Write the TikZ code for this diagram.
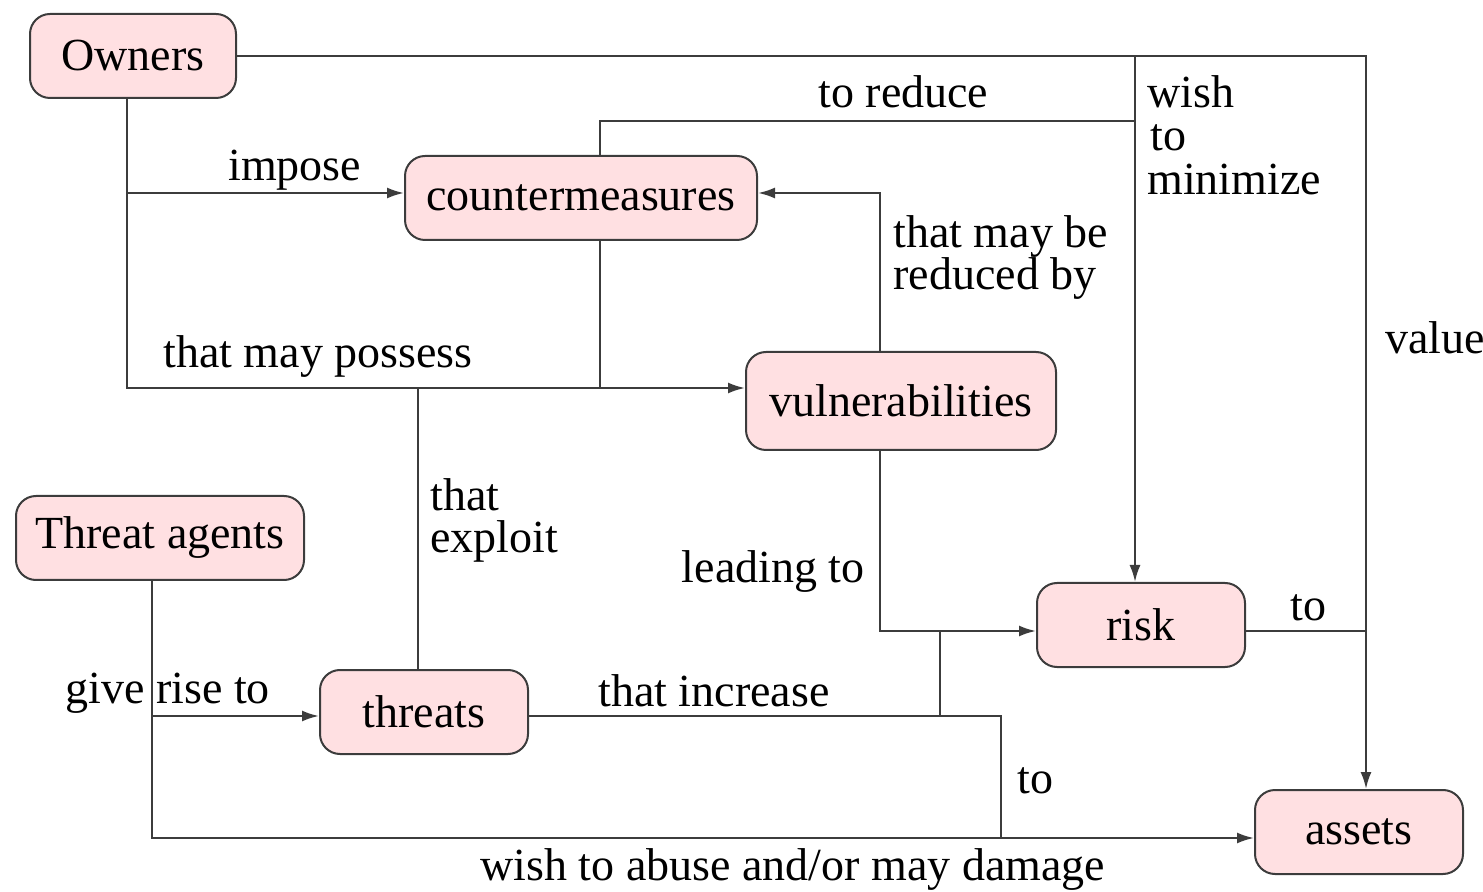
\documentclass[tikz,border=0pt]{standalone}
\usepackage{fontspec}
\setmainfont{Liberation Serif}
\usetikzlibrary{arrows.meta}
\definecolor{boxpink}{RGB}{255,224,226}
\definecolor{edge}{RGB}{60,60,60}

\begin{document}
\begin{tikzpicture}[x=0.5pt,y=-0.5pt,
	font=\fontsize{23}{21}\selectfont,
	box/.style={draw=edge,line width=1pt,fill=boxpink,rounded corners=10pt,minimum height=42pt,inner sep=0pt},
	line/.style={draw=edge,line width=1.1pt},
	arr/.style={line,-{Latex[length=8.5pt,width=5.5pt]}},
	lbl/.style={anchor=base west,inner sep=0pt,align=left}]
		\useasboundingbox (0,0) rectangle (1483,892);
		% boxes
		\node[box,minimum width=103pt] (own) at (133,56) {Owners};
		\node[box,minimum width=176pt] (cm) at (581,198) {countermeasures};
		\node[box,minimum width=155pt,minimum height=49pt] (vul) at (901,401) {vulnerabilities};
		\node[box,minimum width=144pt] (ta) at (160,538) {Threat agents};
		\node[box,minimum width=104pt] (thr) at (424,712) {threats};
		\node[box,minimum width=104pt] (risk) at (1141,625) {risk};
		\node[box,minimum width=104pt] (ast) at (1359,832) {assets};
		% corners and joints
		\coordinate (j1) at (1135,56);
		\coordinate (j2) at (1366,56);
		\coordinate (j3) at (127,193);
		\coordinate (j4) at (127,388);
		\coordinate (j5) at (600,121);
		\coordinate (j6) at (880,193);
		\coordinate (j7) at (880,631);
		\coordinate (j8) at (940,631);
		\coordinate (j9) at (1001,716);
		\coordinate (j10) at (1001,838);
		\coordinate (j11) at (152,716);
		\coordinate (j12) at (152,838);
		\coordinate (j13) at (1366,631);
		\coordinate (j14) at (418,388);
		% connectors
		\draw[arr] (own.east) -- (j2) -- (j2 |- ast.north);
		\draw[arr] (j1) -- (j1 |- risk.north);
		\draw[arr] (own.south -| j4) -- (j4) -- (j4 -| vul.west);
		\draw[arr] (j3) -- (j3 -| cm.west);
		\draw[line] (cm.north -| j5) -- (j5) -- (j1 |- j5);
		\draw[line] (cm.south -| j5) -- (j5 |- j4);
		\draw[line] (thr.north -| j14) -- (j14);
		\draw[arr] (vul.north -| j6) -- (j6) -- (j6 -| cm.east);
		\draw[arr] (vul.south -| j7) -- (j7) -- (j7 -| risk.west);
		\draw[line] (thr.east |- j9) -- (j9) -- (j10);
		\draw[line] (j8 |- j9) -- (j8);
		\draw[arr] (ta.south -| j12) -- (j12) -- (j12 -| ast.west);
		\draw[arr] (j11) -- (j11 -| thr.west);
		\draw[line] (risk.east |- j13) -- (j13);
		% labels
		\node[lbl] (limp) at (228,181) {impose};
		\node[lbl] (lred) at (818,108) {to reduce};
		\node[lbl] (lwish) at (1147,108) {wish};
		\node[lbl] (lto) at (1150,151) {to};
		\node[lbl] (lmin) at (1147,195) {minimize};
		\node[lbl] (lmay) at (893,290) {that may be\\reduced by};
		\node[lbl] (lval) at (1385,354) {value};
		\node[lbl] (lpos) at (163,368) {that may possess};
		\node[lbl] (lexp) at (430,553) {that\\exploit};
		\node[lbl,anchor=base east] (llead) at (865,582) {leading to};
		\node[lbl] (lto1) at (1290,620) {to};
		\node[lbl] (lgive) at (65,703) {give rise to};
		\node[lbl] (linc) at (598,706) {that increase};
		\node[lbl] (lto2) at (1017,793) {to};
		\node[lbl] (labuse) at (480,880) {wish to abuse and/or may damage};
	\end{tikzpicture}
\end{document}
